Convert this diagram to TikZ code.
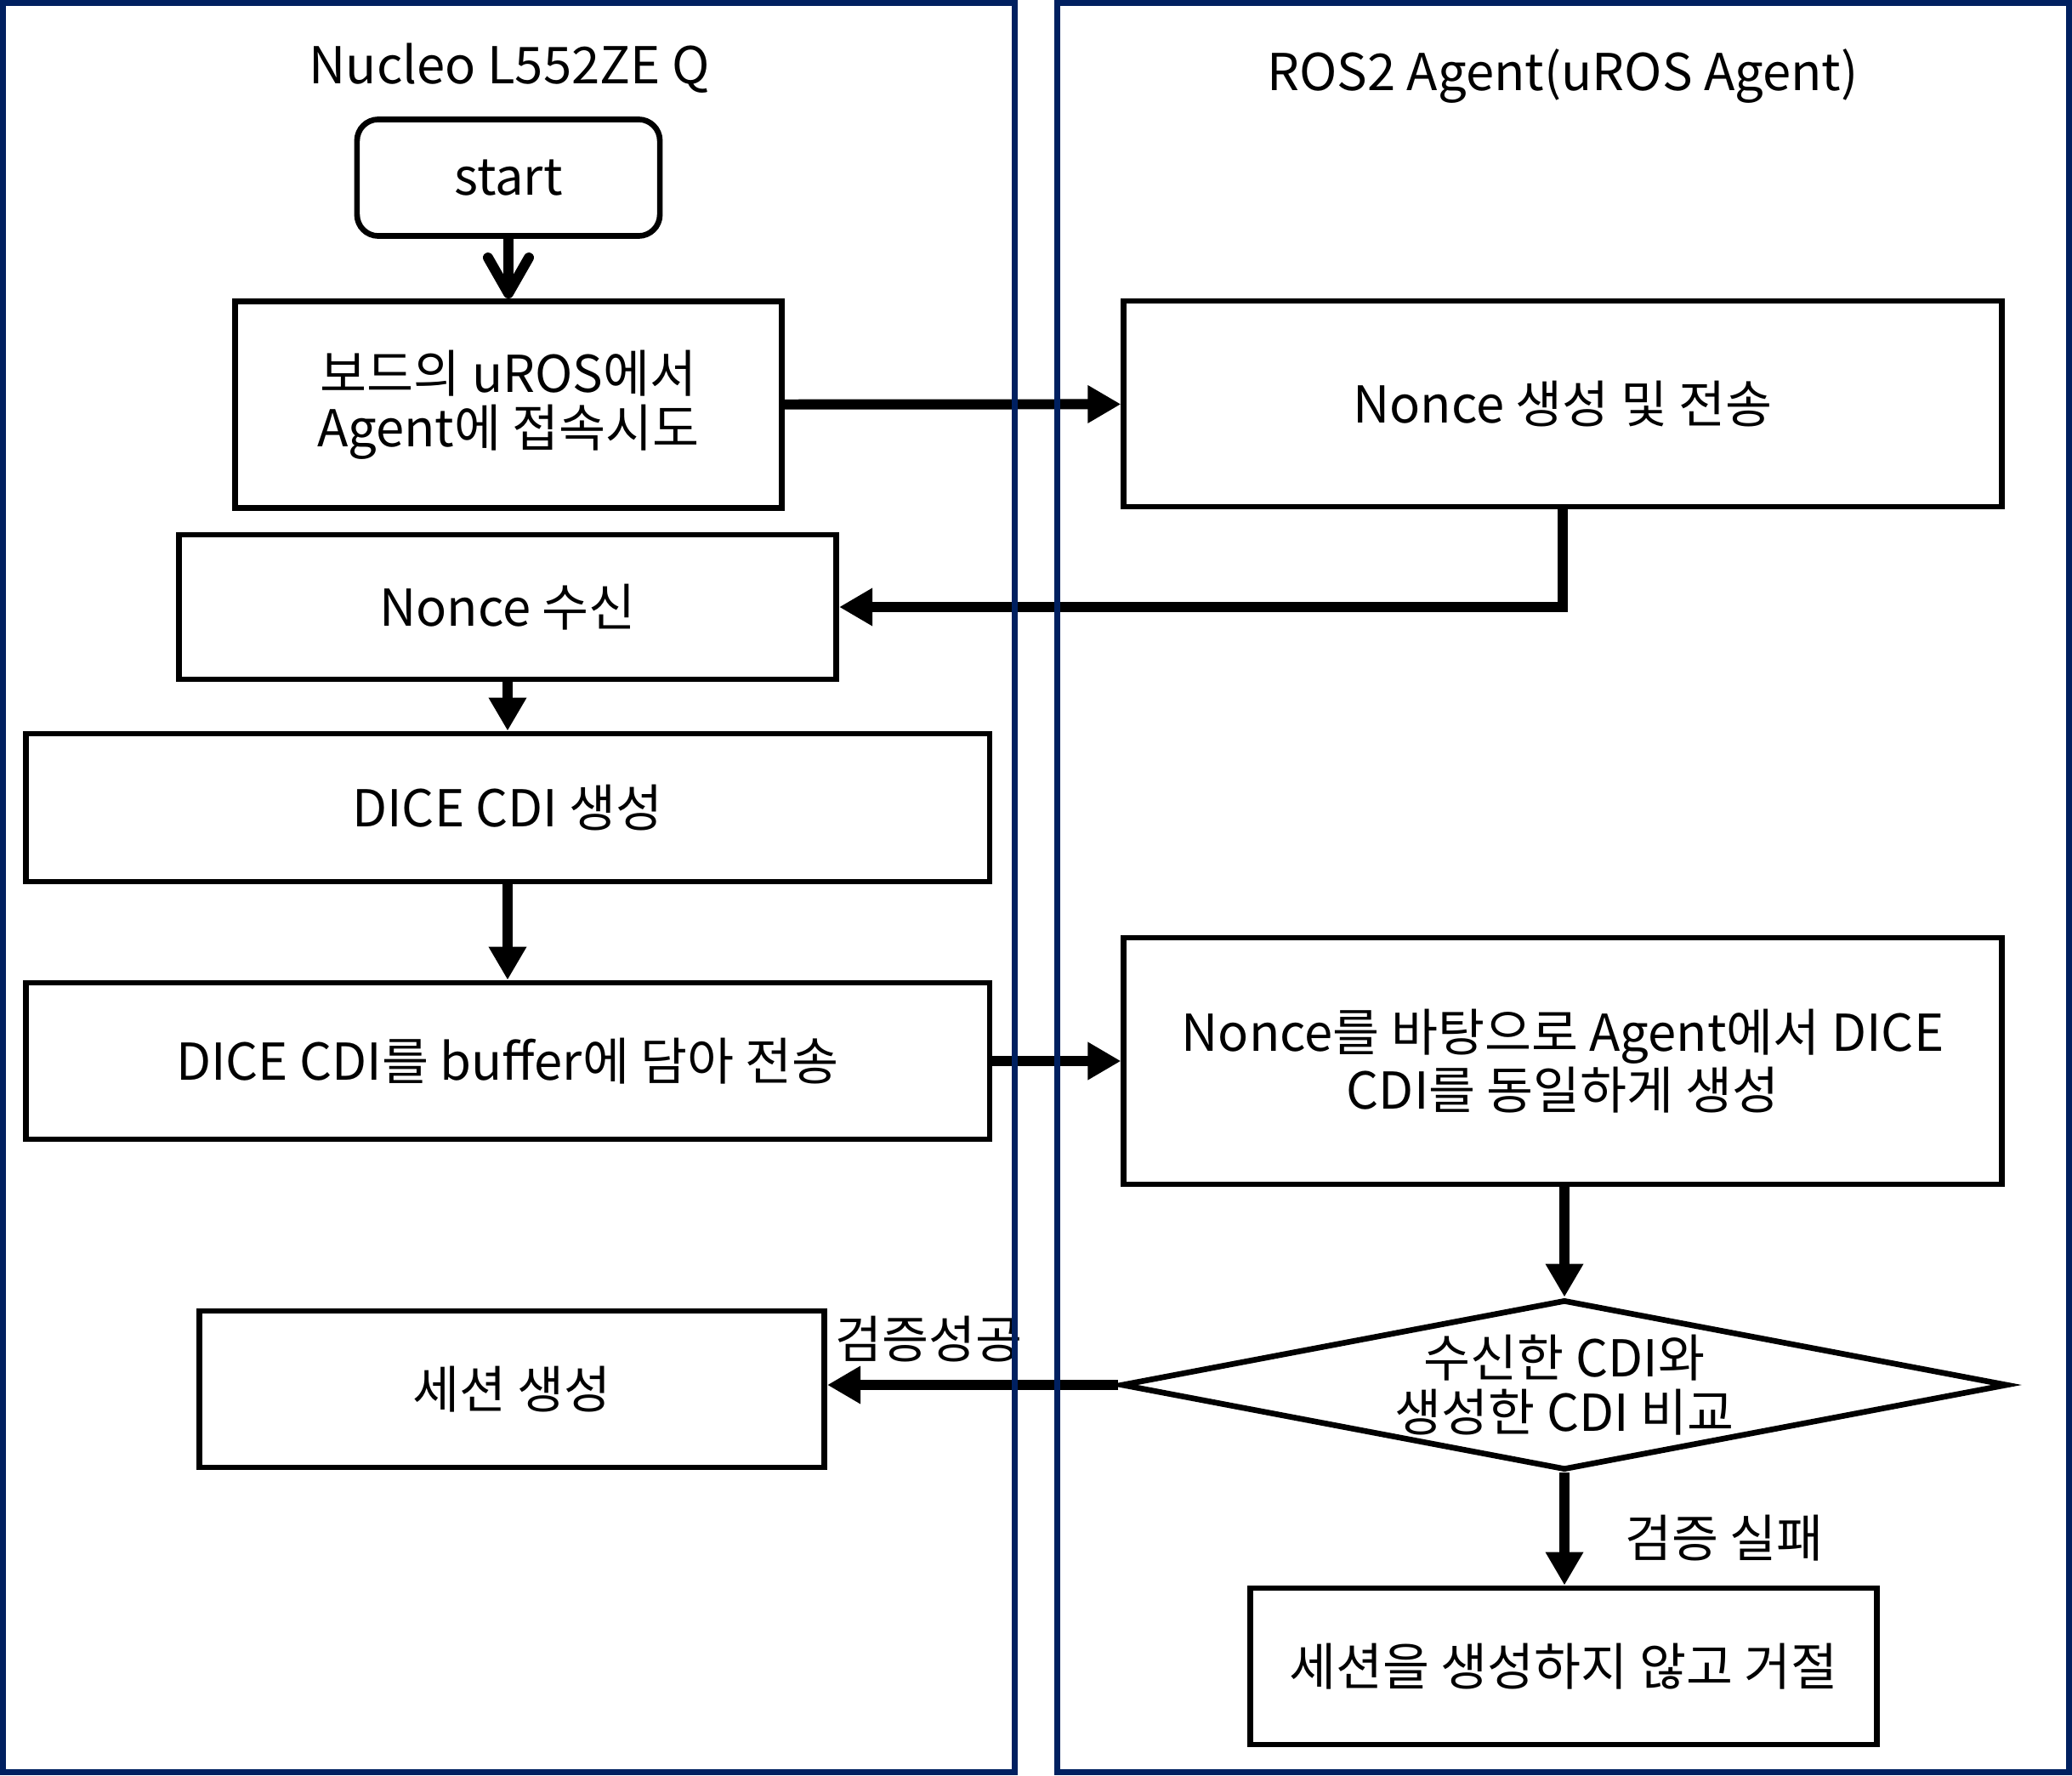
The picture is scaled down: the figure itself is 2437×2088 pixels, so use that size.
\documentclass[tikz,border=0pt]{standalone}
\usepackage{fontspec}
\setmainfont{Noto Sans CJK KR}
\usetikzlibrary{arrows.meta,shapes.geometric}
\definecolor{navy}{RGB}{0,32,96}

\begin{document}
\begin{tikzpicture}[x=0.01cm,y=-0.01cm,
  every node/.style={font=\fontsize{17}{18.2}\selectfont,align=center},
  box/.style={draw,line width=1.9pt,inner sep=0pt},
  lbl/.style={inner sep=0pt},
  flow/.style={line width=3.4pt,-{Triangle[length=0.39cm,width=0.42cm]}},
  lane/.style={draw=navy,line width=2pt}]

\useasboundingbox (0,0) rectangle (2437,2088);

% Nucleo side
\node (nucleo) at (599,80) {Nucleo L552ZE Q};
\node[box,rounded corners=0.25cm,minimum width=3.56cm,minimum height=1.37cm] (start) at (598,209) {start};
\node[box,minimum width=6.43cm,minimum height=2.43cm] (connect) at (598,476) {보드의 uROS에서\\Agent에 접속시도};
\node[box,minimum width=7.73cm,minimum height=1.70cm] (recv) at (597,714) {Nonce 수신};
\node[box,minimum width=11.33cm,minimum height=1.74cm] (cdi) at (597,950) {DICE CDI 생성};
\node[box,minimum width=11.33cm,minimum height=1.84cm] (send) at (597,1248) {DICE CDI를 buffer에 담아 전송};
\node[box,minimum width=7.35cm,minimum height=1.84cm] (session) at (602,1634) {세션 생성};

% Agent side
\node (agent) at (1838,90) {ROS2 Agent(uROS Agent)};
\node[box,minimum width=10.32cm,minimum height=2.42cm] (nonce) at (1838,475) {Nonce 생성 및 전송};
\node[box,minimum width=10.32cm,minimum height=2.90cm] (agentcdi) at (1838,1248) {Nonce를 바탕으로 Agent에서 DICE\\CDI를 동일하게 생성};
\node[box,diamond,shape aspect=5.2,minimum width=10.42cm,minimum height=2.0cm] (cmp) at (1840,1629) {수신한 CDI와\\생성한 CDI 비교};
\node[box,minimum width=7.37cm,minimum height=1.84cm] (reject) at (1839,1960) {세션을 생성하지 않고 거절};

% connectors
\draw[line width=3.4pt,-{Straight Barb[round,length=0.42cm,width=0.48cm]}] (start) -- (connect);
\draw[flow] (connect) -- (nonce);
\draw[flow] (nonce.south) |- (recv.east);
\draw[flow] (recv) -- (cdi);
\draw[flow] (cdi) -- (send);
\draw[flow] (send) -- (agentcdi);
\draw[flow] (agentcdi.south -| cmp.north) -- (cmp.north);
\draw[flow] (cmp.west) -- node[lbl,pos=0.65,above=0.21cm] {검증성공} (cmp.west -| session.east);
\draw[flow] (cmp.south) -- node[lbl,pos=0.58,right=0.65cm] {검증 실패} (cmp.south |- reject.north);

% swim lanes
\draw[lane] (3.5,3.5) rectangle (1193.5,2084.5);
\draw[lane] (1243.5,3.5) rectangle (2433.5,2084.5);

\end{tikzpicture}
\end{document}
